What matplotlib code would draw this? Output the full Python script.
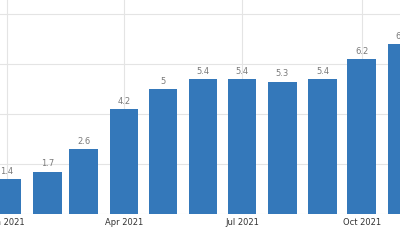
import datetime as dt
import matplotlib
matplotlib.use("Agg")
import matplotlib.pyplot as plt

# data
months = ["2021-01", "2021-02", "2021-03", "2021-04", "2021-05", "2021-06",
          "2021-07", "2021-08", "2021-09", "2021-10", "2021-11"]
values = [1.4, 1.7, 2.6, 4.2, 5, 5.4, 5.4, 5.3, 5.4, 6.2, 6.8]
tick_months = ["2021-01", "2021-04", "2021-07", "2021-10"]
tick_labels = ["Jan 2021", "Apr 2021", "Jul 2021", "Oct 2021"]

dates = [dt.datetime.strptime(m, "%Y-%m") for m in months]
tick_dates = [dt.datetime.strptime(m, "%Y-%m") for m in tick_months]

BAR_COLOR = "#3478ba"
GRID_COLOR = "#e4e4e4"

fig = plt.figure(figsize=(4, 2.4), dpi=100)
ax = fig.add_axes([0, 26 / 240, 1, 214 / 240])

ax.bar(dates, values, width=22, color=BAR_COLOR, zorder=2)

# value labels (the last one runs off the right edge, as in the original)
for d, v in zip(dates, values):
    ax.annotate(f"{v:g}", (d, v), xytext=(0, 2.5), textcoords="offset points",
                ha="center", va="bottom", fontsize=6, color="#7a7a7a",
                annotation_clip=False)

ax.set_xlim(dt.datetime(2020, 12, 26, 12), dt.datetime(2021, 10, 30, 14))
ax.set_ylim(0, 8.56)
ax.set_yticks([0, 2, 4, 6, 8])
ax.set_xticks(tick_dates)
ax.set_xticklabels(tick_labels)
ax.tick_params(axis="x", length=0, pad=3, labelsize=6, labelcolor="#333333")
ax.tick_params(axis="y", left=False, labelleft=False)
ax.grid(True, color=GRID_COLOR, linewidth=0.8, zorder=0)
ax.set_axisbelow(True)
for s in ax.spines.values():
    s.set_visible(False)

fig.savefig("out.png", dpi=100)
